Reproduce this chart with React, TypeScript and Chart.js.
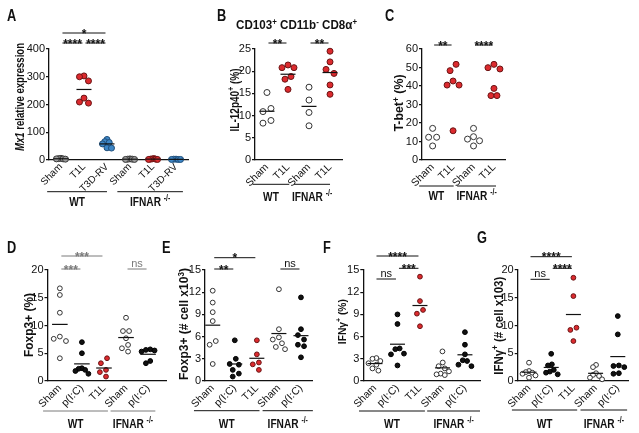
import React, { useEffect, useRef } from 'react';
import { Chart, registerables } from 'chart.js';

Chart.register(...registerables);

// ---------------- DATA ----------------
const A_CATEGORIES = ['Sham', 'T1L', 'T3D-RV', 'Sham', 'T1L', 'T3D-RV'];
const A_VALUES = [
  [6, 5, 4, 4, 3],
  [303, 300, 285, 223, 209, 205],
  [74, 66, 63, 58, 44, 43],
  [4, 3, 3, 2, 2],
  [5, 4, 3, 3, 2, 2],
  [3, 3, 2, 2, 2],
];
const A_Y_TICKS = [0, 100, 200, 300, 400];

const B_CATEGORIES = ['Sham', 'T1L', 'Sham', 'T1L'];
const B_VALUES = [
  [15.2, 11.6, 10.9, 8.9, 8.3],
  [21.4, 20.8, 20.8, 18.8, 18.2, 15.9],
  [16.4, 13.5, 10.7, 7.7],
  [24.5, 22.1, 20.4, 19.5, 16.9, 14.8],
];
const B_Y_TICKS = [0, 5, 10, 15, 20, 25];

const C_CATEGORIES = ['Sham', 'T1L', 'Sham', 'T1L'];
const C_VALUES = [
  [17.1, 12.3, 12.3, 7.6],
  [51.7, 48.3, 42.7, 40.5, 40.5, 15.8],
  [17.1, 12.6, 11.3, 10.4, 7.6],
  [51.7, 49.9, 49.2, 38.7, 34.8, 34.8],
];
const C_Y_TICKS = [0, 10, 20, 30, 40, 50, 60];

const D_CATEGORIES = ['Sham', 'p(I:C)', 'T1L', 'Sham', 'p(I:C)'];
const D_VALUES = [
  [16.7, 15.5, 12.3, 8.0, 7.6, 7.2, 4.1],
  [7.0, 5.0, 2.3, 2.2, 2.0, 1.8, 1.3],
  [4.1, 3.2, 2.0, 1.6, 0.8],
  [11.4, 9.0, 9.0, 7.7, 6.5, 5.9, 5.3],
  [5.7, 5.6, 5.5, 5.3, 3.6, 3.2],
];
const D_Y_TICKS = [0, 5, 10, 15, 20];

const E_CATEGORIES = ['Sham', 'p(I:C)', 'T1L', 'Sham', 'p(I:C)'];
const E_VALUES = [
  [12.2, 10.6, 9.3, 8.1, 5.4, 4.9, 2.3],
  [5.5, 3.0, 2.3, 2.2, 1.5, 1.0, 0.6],
  [5.5, 3.6, 2.5, 2.25, 1.5],
  [12.4, 7.0, 5.9, 5.6, 5.1, 4.6, 4.3],
  [11.3, 7.0, 6.2, 5.6, 4.9, 4.7, 3.2],
];
const E_Y_TICKS = [0, 3, 6, 9, 12, 15];

const F_CATEGORIES = ['Sham', 'p(I:C)', 'T1L', 'Sham', 'p(I:C)'];
const F_VALUES = [
  [3.1, 3.0, 2.7, 2.4, 2.2, 1.7, 1.4],
  [9.0, 7.7, 4.4, 4.3, 3.7, 3.6, 2.1],
  [14.1, 10.8, 9.6, 9.1, 7.4],
  [4.0, 2.5, 2.0, 1.7, 1.3, 1.0, 0.9, 0.8],
  [6.6, 4.9, 3.6, 2.8, 2.7, 2.2, 2.0],
];
const F_Y_TICKS = [0, 3, 6, 9, 12, 15];

const G_CATEGORIES = ['Sham', 'p(I:C)', 'T1L', 'Sham', 'p(I:C)'];
const G_VALUES = [
  [3.3, 1.8, 1.6, 1.5, 1.3, 1.0, 0.6],
  [4.9, 3.0, 2.8, 2.0, 1.7, 1.5, 1.2],
  [18.6, 15.3, 9.6, 9.2, 7.2],
  [2.9, 2.5, 1.4, 1.1, 0.9, 0.6, 0.3],
  [11.7, 8.4, 2.8, 2.7, 2.5, 1.4, 1.3],
];
const G_Y_TICKS = [0, 5, 10, 15, 20];

// ---------------- STYLE / LAYOUT ----------------
type Kind = 'open' | 'black' | 'red' | 'blue' | 'gray';
type Part = { t: string; italic?: boolean; sup?: boolean };

const KIND_STYLE: Record<Kind, { fill: string; border: string }> = {
  open: { fill: '#ffffff', border: '#333333' },
  black: { fill: '#111111', border: '#000000' },
  red: { fill: '#dc2a2e', border: '#6a1414' },
  blue: { fill: '#3d86c6', border: '#1f4e7a' },
  gray: { fill: '#9b9b9b', border: '#3a3a3a' },
};

const FONT = '"Liberation Sans", Arial, Helvetica, sans-serif';
const fontStr = (size: number, weight: string, italic?: boolean) =>
  `${italic ? 'italic ' : ''}${weight} ${size}px ${FONT}`;

const WT: Part[] = [{ t: 'WT' }];
const IFNAR: Part[] = [{ t: 'IFNAR ' }, { t: '-/-', sup: true }];

interface Sig { from: number; to: number; y: number; text: string }
interface Group { from: number; to: number; l: number; r: number; label: Part[] }
interface Panel {
  letter: string; letterPos: [number, number];
  box: [number, number, number, number];
  plot: [number, number, number, number];
  cats: string[]; values: number[][]; yTicks: number[]; kinds: Kind[];
  xMin: number; xMax: number; radius: number; spreadK: number; maxOff: number; catFont: number;
  means: boolean; meanHalf: number;
  title: Part[]; titlePos: [number, number]; titleLen: number; titleSize: number;
  sig: Sig[]; groups: Group[]; groupLineY: number; groupTextY: number;
  annColor: string;
  subtitle?: { parts: Part[]; x: number; y: number; len: number };
}

const PANELS: Panel[] = [
  {
    letter: 'A', letterPos: [7, 21], box: [0, 0, 205, 215], plot: [49, 49, 188, 160],
    cats: A_CATEGORIES, values: A_VALUES, yTicks: A_Y_TICKS,
    kinds: ['gray', 'red', 'blue', 'gray', 'red', 'blue'],
    xMin: -0.52, xMax: 5.52, radius: 3, spreadK: 0.95, maxOff: 4.5, catFont: 10, means: true, meanHalf: 7.5,
    title: [{ t: 'Mx1', italic: true }, { t: ' relative expression' }], titlePos: [20, 97], titleLen: 108, titleSize: 12,
    sig: [
      { from: 0, to: 2, y: 33, text: '*' },
      { from: 0, to: 1, y: 43, text: '****' },
      { from: 1, to: 2, y: 43, text: '****' },
    ],
    groups: [
      { from: 0, to: 2, l: 0.6, r: 0.0, label: WT },
      { from: 3, to: 5, l: 0.55, r: 0.3, label: IFNAR },
    ],
    groupLineY: 191.7, groupTextY: 206, annColor: '#111',
  },
  {
    letter: 'B', letterPos: [217, 21], box: [205, 0, 175, 215], plot: [255, 49, 342, 160],
    cats: B_CATEGORIES, values: B_VALUES, yTicks: B_Y_TICKS,
    kinds: ['open', 'red', 'open', 'red'],
    xMin: -0.57, xMax: 3.57, radius: 3, spreadK: 1, maxOff: 6, catFont: 10.5, means: true, meanHalf: 7.5,
    title: [{ t: 'IL-12p40' }, { t: '+', sup: true }, { t: ' (%)' }], titlePos: [234.5, 100], titleLen: 63, titleSize: 12,
    sig: [
      { from: 0, to: 1, y: 43, text: '**' },
      { from: 2, to: 3, y: 43, text: '**' },
    ],
    groups: [
      { from: 0, to: 1, l: 0.68, r: 0.06, label: WT },
      { from: 2, to: 3, l: 0.71, r: 0.0, label: IFNAR },
    ],
    groupLineY: 184.3, groupTextY: 201, annColor: '#111',
    subtitle: {
      parts: [{ t: 'CD103' }, { t: '+', sup: true }, { t: ' CD11b' }, { t: '-', sup: true }, { t: ' CD8α' }, { t: '+', sup: true }],
      x: 296.5, y: 29.3, len: 121,
    },
  },
  {
    letter: 'C', letterPos: [385, 21], box: [380, 0, 140, 215], plot: [422, 49, 505, 160],
    cats: C_CATEGORIES, values: C_VALUES, yTicks: C_Y_TICKS,
    kinds: ['open', 'red', 'open', 'red'],
    xMin: -0.52, xMax: 3.54, radius: 3, spreadK: 1, maxOff: 6, catFont: 10.5, means: false, meanHalf: 7.5,
    title: [{ t: 'T-bet' }, { t: '+', sup: true }, { t: ' (%)' }], titlePos: [399, 103], titleLen: 57, titleSize: 12,
    sig: [
      { from: 0, to: 1, y: 45, text: '**' },
      { from: 2, to: 3, y: 45, text: '****' },
    ],
    groups: [
      { from: 0, to: 1, l: 0.66, r: 0.03, label: WT },
      { from: 2, to: 3, l: 0.8, r: 0.1, label: IFNAR },
    ],
    groupLineY: 186, groupTextY: 200, annColor: '#111',
  },
  {
    letter: 'D', letterPos: [7, 253], box: [0, 215, 170, 218], plot: [47.5, 270, 168, 381],
    cats: D_CATEGORIES, values: D_VALUES, yTicks: D_Y_TICKS,
    kinds: ['open', 'black', 'red', 'open', 'black'],
    xMin: -0.56, xMax: 4.84, radius: 2.4, spreadK: 0.9, maxOff: 6.5, catFont: 10.5, means: true, meanHalf: 7.8,
    title: [{ t: 'Foxp3+ (%)' }], titlePos: [28.3, 325], titleLen: 64, titleSize: 12,
    sig: [
      { from: 0, to: 2, y: 256, text: '***' },
      { from: 0, to: 1, y: 269, text: '***' },
      { from: 3, to: 4, y: 269, text: 'ns' },
    ],
    groups: [
      { from: 0, to: 2, l: 0.76, r: 0.18, label: WT },
      { from: 3, to: 4, l: 0.7, r: 0.33, label: IFNAR },
    ],
    groupLineY: 411, groupTextY: 427.7, annColor: '#7a7a7a',
  },
  {
    letter: 'E', letterPos: [162, 253], box: [158, 215, 165, 218], plot: [205, 270, 312, 381],
    cats: E_CATEGORIES, values: E_VALUES, yTicks: E_Y_TICKS,
    kinds: ['open', 'black', 'red', 'open', 'black'],
    xMin: -0.35, xMax: 4.5, radius: 2.4, spreadK: 0.9, maxOff: 6.5, catFont: 10.5, means: true, meanHalf: 7.5,
    title: [{ t: 'Foxp3+ (# cell x10' }, { t: '3', sup: true }, { t: ')' }], titlePos: [184, 324], titleLen: 112, titleSize: 12,
    sig: [
      { from: 0, to: 2, y: 257.7, text: '*' },
      { from: 0, to: 1, y: 269, text: '**' },
      { from: 3, to: 4, y: 269, text: 'ns' },
    ],
    groups: [
      { from: 0, to: 2, l: 0.85, r: 0.12, label: WT },
      { from: 3, to: 4, l: 0.74, r: 0.54, label: IFNAR },
    ],
    groupLineY: 410.7, groupTextY: 428, annColor: '#111',
  },
  {
    letter: 'F', letterPos: [323, 253], box: [318, 215, 170, 218], plot: [363.3, 270, 480, 381],
    cats: F_CATEGORIES, values: F_VALUES, yTicks: F_Y_TICKS,
    kinds: ['open', 'black', 'red', 'open', 'black'],
    xMin: -0.52, xMax: 4.67, radius: 2.4, spreadK: 0.9, maxOff: 6.5, catFont: 10.5, means: true, meanHalf: 7.5,
    title: [{ t: 'IFNγ' }, { t: '+', sup: true }, { t: ' (%)' }], titlePos: [341.7, 321.7], titleLen: 45, titleSize: 11,
    sig: [
      { from: 0, to: 2, y: 256, text: '****' },
      { from: 1, to: 2, y: 268.3, text: '***' },
      { from: 0, to: 1, y: 279, text: 'ns' },
    ],
    groups: [
      { from: 0, to: 2, l: 0.71, r: 0.22, label: WT },
      { from: 3, to: 4, l: 0.68, r: 0.67, label: IFNAR },
    ],
    groupLineY: 411, groupTextY: 428, annColor: '#111',
  },
  {
    letter: 'G', letterPos: [477, 243], box: [474, 215, 165, 218], plot: [517.7, 270, 628, 381],
    cats: G_CATEGORIES, values: G_VALUES, yTicks: G_Y_TICKS,
    kinds: ['open', 'black', 'red', 'open', 'black'],
    xMin: -0.51, xMax: 4.46, radius: 2.4, spreadK: 0.9, maxOff: 6.5, catFont: 10.5, means: true, meanHalf: 7.5,
    title: [{ t: 'IFNγ' }, { t: '+', sup: true }, { t: ' (# cell x103)' }], titlePos: [498.3, 325.7], titleLen: 98, titleSize: 12,
    sig: [
      { from: 0, to: 2, y: 256.7, text: '****' },
      { from: 1, to: 2, y: 268.3, text: '****' },
      { from: 0, to: 1, y: 279.3, text: 'ns' },
    ],
    groups: [
      { from: 0, to: 2, l: 0.77, r: 0.17, label: WT },
      { from: 3, to: 4, l: 0.68, r: 0.42, label: IFNAR },
    ],
    groupLineY: 410, groupTextY: 428, annColor: '#111',
  },
];

// ---------------- DRAW HELPERS ----------------
function drawRich(
  ctx: CanvasRenderingContext2D, parts: Part[], x: number, y: number,
  o: { size: number; weight?: string; align?: 'left' | 'center'; rotate?: number; squeeze?: number; len?: number; color?: string; middle?: boolean }
) {
  const weight = o.weight ?? 'normal';
  const sizeOf = (p: Part) => (p.sup ? o.size * 0.68 : o.size);
  const widths = parts.map((p) => {
    ctx.font = fontStr(sizeOf(p), weight, p.italic);
    return ctx.measureText(p.t).width;
  });
  const total = widths.reduce((a, b) => a + b, 0);
  const sq = o.len ? o.len / total : o.squeeze ?? 1;
  ctx.save();
  ctx.translate(x, y);
  if (o.rotate) ctx.rotate(o.rotate);
  ctx.scale(sq, 1);
  let cx = o.align === 'center' ? -total / 2 : 0;
  const by = o.middle ? o.size * 0.36 : 0;
  ctx.fillStyle = o.color ?? '#111';
  ctx.textAlign = 'left';
  ctx.textBaseline = 'alphabetic';
  parts.forEach((p, i) => {
    ctx.font = fontStr(sizeOf(p), weight, p.italic);
    ctx.fillText(p.t, cx, by + (p.sup ? -o.size * 0.4 : 0));
    cx += widths[i];
  });
  ctx.restore();
}

// Spread overlapping points sideways (scatter dot plot style)
function spreadPoints(chart: any, p: Panel) {
  const d = (p.radius + 1) * 2;
  const thr = d * p.spreadK;
  chart.data.datasets.forEach((_: any, di: number) => {
    const meta = chart.getDatasetMeta(di);
    const pts = meta.data.map((el: any) => ({ el, y: el.y, x0: el.x, off: 0 }));
    const order = [...pts].sort((a, b) => a.y - b.y);
    const placed: any[] = [];
    for (const q of order) {
      for (let k = 0; k < 60; k++) {
        const step = k === 0 ? 0 : (k % 2 === 1 ? -1 : 1) * Math.ceil(k / 2) * thr * 0.5;
        if (placed.every((r) => Math.hypot(r.off - step, r.y - q.y) >= thr)) {
          q.off = step;
          break;
        }
      }
      placed.push(q);
    }
    let cluster: any[] = [];
    const flush = () => {
      if (!cluster.length) return;
      const m = cluster.reduce((a, c) => a + c.off, 0) / cluster.length;
      cluster.forEach((c) => (c.off -= m));
      cluster = [];
    };
    order.forEach((q, i) => {
      if (i > 0 && q.y - order[i - 1].y >= thr) flush();
      cluster.push(q);
    });
    flush();
    const mx = Math.max(...order.map((q) => Math.abs(q.off)), 0.0001);
    const f = mx > p.maxOff ? p.maxOff / mx : 1;
    order.forEach((q) => {
      q.el.x = q.x0 + q.off * f;
    });
  });
}

function makeAnnotations(p: Panel) {
  const [bl, bt] = p.box;
  return {
    id: 'panelAnnotations',
    afterDatasetsUpdate(chart: any) {
      spreadPoints(chart, p);
    },
    afterDatasetsDraw(chart: any) {
      if (!p.means) return;
      const ctx = chart.ctx as CanvasRenderingContext2D;
      const xs = chart.scales.x;
      const ys = chart.scales.y;
      ctx.save();
      ctx.strokeStyle = '#111';
      ctx.lineWidth = 1.2;
      p.values.forEach((vals, i) => {
        const m = vals.reduce((a, b) => a + b, 0) / vals.length;
        const px = xs.getPixelForValue(i);
        const py = ys.getPixelForValue(m);
        ctx.beginPath();
        ctx.moveTo(px - p.meanHalf, py);
        ctx.lineTo(px + p.meanHalf, py);
        ctx.stroke();
      });
      ctx.restore();
    },
    afterDraw(chart: any) {
      const ctx = chart.ctx as CanvasRenderingContext2D;
      const xs = chart.scales.x;
      ctx.save();
      // significance bars
      ctx.strokeStyle = p.annColor;
      ctx.lineWidth = 1;
      p.sig.forEach((s) => {
        const x1 = xs.getPixelForValue(s.from) + 1.5;
        const x2 = xs.getPixelForValue(s.to) - 1.5;
        const y = s.y - bt;
        ctx.beginPath();
        ctx.moveTo(x1, y);
        ctx.lineTo(x2, y);
        ctx.stroke();
        const stars = s.text.includes('*');
        drawRich(ctx, [{ t: s.text }], (x1 + x2) / 2, stars ? y + 4.6 : y - 2, {
          size: stars ? 12 : 11, weight: stars ? 'bold' : 'normal', align: 'center', color: p.annColor,
        });
      });
      // group lines and labels
      p.groups.forEach((g) => {
        const x1 = xs.getPixelForValue(g.from - g.l);
        const x2 = xs.getPixelForValue(g.to + g.r);
        const y = p.groupLineY - bt;
        ctx.strokeStyle = p.annColor;
        ctx.lineWidth = 1;
        ctx.beginPath();
        ctx.moveTo(x1, y);
        ctx.lineTo(x2, y);
        ctx.stroke();
        drawRich(ctx, g.label, (x1 + x2) / 2, p.groupTextY - bt, {
          size: 13, weight: 'bold', align: 'center', squeeze: 0.78, color: '#111',
        });
      });
      // y title
      drawRich(ctx, p.title, p.titlePos[0] - bl, p.titlePos[1] - bt, {
        size: p.titleSize, weight: 'bold', align: 'center', rotate: -Math.PI / 2, len: p.titleLen, middle: true, color: '#111',
      });
      // panel letter
      drawRich(ctx, [{ t: p.letter }], p.letterPos[0] - bl, p.letterPos[1] - bt, {
        size: 16, weight: 'bold', align: 'left', squeeze: 0.8, color: '#111',
      });
      if (p.subtitle) {
        drawRich(ctx, p.subtitle.parts, p.subtitle.x - bl, p.subtitle.y - bt, {
          size: 12, weight: 'bold', align: 'center', len: p.subtitle.len, color: '#111',
        });
      }
      ctx.restore();
    },
  };
}

function PanelChart({ p }: { p: Panel }) {
  const ref = useRef<HTMLCanvasElement>(null);
  useEffect(() => {
    const [bl, bt, bw, bh] = p.box;
    const [pl, pt, pr, pb] = p.plot;
    const chart = new Chart(ref.current as HTMLCanvasElement, {
      type: 'scatter',
      data: {
        datasets: p.values.map((vals, i) => ({
          data: vals.map((v) => ({ x: i, y: v })),
          pointRadius: p.radius,
          pointHoverRadius: p.radius,
          pointBackgroundColor: KIND_STYLE[p.kinds[i]].fill,
          pointBorderColor: KIND_STYLE[p.kinds[i]].border,
          pointBorderWidth: 1,
          showLine: false,
          clip: false as any,
        })),
      },
      options: {
        responsive: false,
        animation: false,
        devicePixelRatio: 1,
        events: [],
        layout: { padding: { left: 0, top: pt - bt, right: bl + bw - pr, bottom: 0 } },
        plugins: { legend: { display: false }, tooltip: { enabled: false } },
        scales: {
          x: {
            type: 'linear',
            min: p.xMin,
            max: p.xMax,
            afterBuildTicks: (s: any) => {
              s.ticks = p.cats.map((_, i) => ({ value: i }));
            },
            afterFit: (s: any) => {
              s.height = bt + bh - pb;
            },
            ticks: {
              autoSkip: false,
              minRotation: 45,
              maxRotation: 45,
              padding: -2,
              color: '#111',
              font: { family: FONT, size: p.catFont },
              callback: (v: any) => p.cats[v as number],
            },
            grid: { display: true, drawOnChartArea: false, drawTicks: true, tickLength: 3, color: 'rgba(0,0,0,0)', lineWidth: 1 },
            border: { display: true, color: '#111', width: 1.3 },
          },
          y: {
            type: 'linear',
            min: p.yTicks[0],
            max: p.yTicks[p.yTicks.length - 1],
            afterBuildTicks: (s: any) => {
              s.ticks = p.yTicks.map((v) => ({ value: v }));
            },
            afterFit: (s: any) => {
              s.width = pl - bl;
            },
            ticks: { padding: 1, color: '#111', font: { family: FONT, size: 11 } },
            grid: { display: true, drawOnChartArea: false, drawTicks: true, tickLength: 3, color: '#111', lineWidth: 1.2 },
            border: { display: true, color: '#111', width: 1.3 },
          },
        },
      } as any,
      plugins: [makeAnnotations(p) as any],
    });
    return () => chart.destroy();
  }, [p]);
  const [bl, bt, bw, bh] = p.box;
  return (
    <canvas
      ref={ref}
      width={bw}
      height={bh}
      style={{ position: 'absolute', left: bl, top: bt, width: bw, height: bh }}
    />
  );
}

export default function App() {
  return (
    <div style={{ position: 'absolute', left: 0, top: 0, width: 639, height: 433, background: '#fff', overflow: 'hidden' }}>
      {PANELS.map((p) => (
        <PanelChart key={p.letter} p={p} />
      ))}
    </div>
  );
}
